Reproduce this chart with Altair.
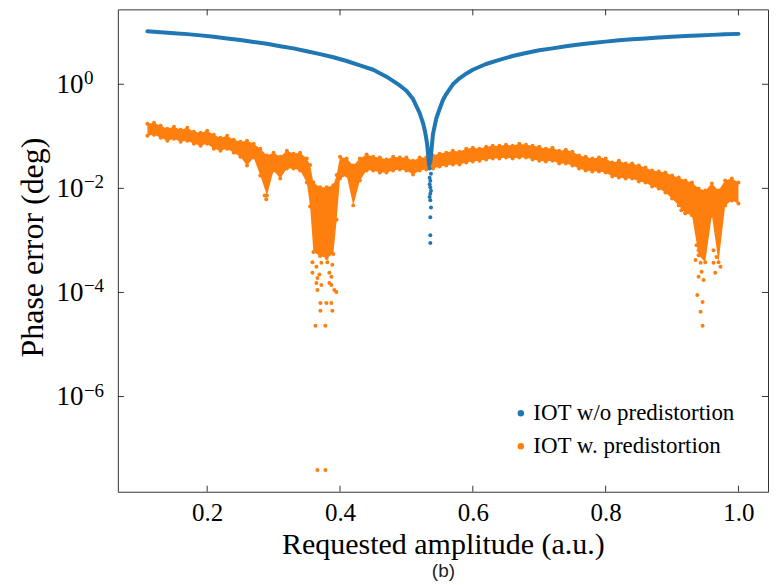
import altair as alt
import pandas as pd

# ---------------- data ----------------
SERIES = ["IOT w/o predistortion", "IOT w. predistortion"]
COLORS = ["#1f77b4", "#ff7f0e"]

X_TICKS = [0.2, 0.4, 0.6, 0.8, 1.0]
Y_TICKS = [1.0, 1e-2, 1e-4, 1e-6]
Y_EXPONENTS = ["0", "\u22122", "\u22124", "\u22126"]

BLUE_X = [0.11, 0.13, 0.15, 0.17, 0.19, 0.21, 0.23, 0.25, 0.27, 0.29,
          0.31, 0.33, 0.35, 0.37, 0.39, 0.41, 0.43, 0.45, 0.47, 0.49,
          0.50, 0.51, 0.515, 0.52, 0.525, 0.528, 0.531, 0.533, 0.534,
          0.536, 0.540, 0.545, 0.549, 0.555, 0.56, 0.57, 0.58, 0.59, 0.60,
          0.62, 0.64, 0.66, 0.68, 0.70, 0.72, 0.74, 0.76, 0.78, 0.80,
          0.82, 0.84, 0.86, 0.88, 0.90, 0.92, 0.94, 0.96, 0.98, 1.00]
BLUE_Y = [10.4, 10.0, 9.6, 9.2, 8.7, 8.2, 7.6, 7.1, 6.5, 6.0,
          5.4, 4.9, 4.3, 3.8, 3.3, 2.8, 2.3, 1.9, 1.4, 0.95,
          0.75, 0.52, 0.38, 0.28, 0.18, 0.125, 0.075, 0.042, 0.028,
          0.032, 0.11, 0.22, 0.31, 0.5, 0.65, 1.0, 1.3, 1.6, 1.9,
          2.45, 2.95, 3.5, 4.0, 4.5, 4.9, 5.4, 5.8, 6.2, 6.6,
          7.0, 7.3, 7.6, 7.9, 8.2, 8.5, 8.7, 8.9, 9.1, 9.3]

BLUE_TAIL_X = [0.535, 0.537, 0.535, 0.536, 0.535, 0.536, 0.537, 0.536, 0.535,
               0.536, 0.537, 0.536, 0.536, 0.536]
BLUE_TAIL_Y = [0.024, 0.019, 0.016, 0.014, 0.012, 0.0105, 0.009, 0.0079, 0.0068,
               0.0059, 0.0043, 0.0028, 0.00126, 0.00089]

ORANGE_X = [0.11, 0.12, 0.13, 0.14, 0.15, 0.16, 0.17, 0.18, 0.19, 0.20,
            0.21, 0.22, 0.23, 0.24, 0.25, 0.26, 0.27, 0.28, 0.29, 0.30,
            0.31, 0.32, 0.33, 0.34, 0.35, 0.355, 0.36, 0.37, 0.38, 0.39, 0.395, 0.40,
            0.41, 0.42, 0.43, 0.44, 0.45, 0.46, 0.47, 0.48, 0.49, 0.50,
            0.51, 0.52, 0.53, 0.54, 0.55, 0.56, 0.57, 0.58, 0.59, 0.60,
            0.61, 0.62, 0.63, 0.64, 0.65, 0.66, 0.67, 0.68, 0.69, 0.70,
            0.71, 0.72, 0.73, 0.74, 0.75, 0.76, 0.77, 0.78, 0.79, 0.80,
            0.81, 0.82, 0.83, 0.84, 0.85, 0.86, 0.87, 0.88, 0.89, 0.90,
            0.91, 0.92, 0.93, 0.94, 0.95, 0.96, 0.97, 0.98, 0.99, 1.00]
ORANGE_HI = [0.174, 0.182, 0.160, 0.140, 0.153, 0.134, 0.146, 0.122, 0.117, 0.128,
             0.107, 0.094, 0.103, 0.086, 0.079, 0.082, 0.072, 0.058, 0.0426, 0.0486,
             0.0407, 0.053, 0.0465, 0.0486, 0.0373, 0.028, 0.013, 0.0105, 0.0105, 0.0115, 0.018, 0.0407,
             0.0373, 0.0274, 0.0373, 0.0445, 0.0407, 0.039, 0.0357, 0.0407, 0.039, 0.039,
             0.0341, 0.039, 0.039, 0.0426, 0.0465, 0.0486, 0.053, 0.0508, 0.058, 0.0605,
             0.058, 0.063, 0.066, 0.066, 0.069, 0.066, 0.072, 0.069, 0.066, 0.063,
             0.058, 0.0605, 0.053, 0.0555, 0.0508, 0.0426, 0.0407, 0.0373, 0.039, 0.0373,
             0.0313, 0.0341, 0.0299, 0.0299, 0.0274, 0.0251, 0.022, 0.021, 0.0201, 0.0177,
             0.0162, 0.0142, 0.013, 0.00995, 0.0091, 0.0124, 0.0091, 0.0142, 0.0155, 0.013]
ORANGE_LO = [0.103, 0.107, 0.094, 0.082, 0.090, 0.079, 0.082, 0.072, 0.066, 0.072,
             0.058, 0.053, 0.058, 0.0486, 0.0407, 0.0274, 0.039, 0.0177, 0.0073, 0.022,
             0.0155, 0.024, 0.024, 0.022, 0.013, 0.0045, 0.0006, 0.0005, 0.00046, 0.00055, 0.0025, 0.0155,
             0.0177, 0.00471, 0.0142, 0.022, 0.022, 0.0201, 0.0201, 0.022, 0.023, 0.022,
             0.0184, 0.022, 0.023, 0.024, 0.0262, 0.0274, 0.0286, 0.0286, 0.0313, 0.0327,
             0.0341, 0.0357, 0.0373, 0.0373, 0.039, 0.0373, 0.039, 0.039, 0.0357, 0.0341,
             0.0327, 0.0341, 0.0299, 0.0299, 0.0274, 0.024, 0.022, 0.021, 0.021, 0.0201,
             0.0169, 0.0162, 0.0155, 0.0155, 0.0135, 0.013, 0.0109, 0.00995, 0.00835, 0.0064,
             0.00471, 0.00331, 0.00303, 0.00052, 0.00038, 0.00303, 0.00038, 0.00471, 0.00587, 0.00514]

ORANGE_DOT_X = [0.3585, 0.3645, 0.372, 0.381, 0.3885, 0.3585, 0.369, 0.384, 0.366, 0.387,
                0.3645, 0.372, 0.384, 0.366, 0.3945, 0.387, 0.3915, 0.3705, 0.3795, 0.387,
                0.3705, 0.3885, 0.363, 0.378, 0.366, 0.378, 0.2865, 0.289,
                0.937, 0.940, 0.9354, 0.943, 0.9445, 0.940, 0.9475, 0.938, 0.946, 0.943, 0.946,
                0.9625, 0.967, 0.9625, 0.973, 0.965, 0.914, 0.920, 0.929]
ORANGE_DOT_Y = [0.00038, 0.00031, 0.00037, 0.00038, 0.00034, 0.00024, 0.00022, 0.00024, 0.00019, 0.00020,
                0.000152, 0.000139, 0.000152, 0.000112, 0.000102, 0.000139, 0.000112, 0.000063, 0.000063, 0.000063,
                0.0000443, 0.0000443, 0.0000229, 0.0000229, 3.86e-8, 3.86e-8, 0.0073, 0.0062,
                0.00081, 0.00065, 0.00042, 0.00037, 0.00025, 0.00020, 0.000173, 0.0000896, 0.0000658, 0.0000424, 0.0000229,
                0.00065, 0.00048, 0.00037, 0.00031, 0.00024, 0.00378, 0.00331, 0.00431]

CAPTION = ["(b)"]

# ---------------- frames ----------------
blue_df = pd.DataFrame({"x": BLUE_X, "y": BLUE_Y})
band_df = pd.DataFrame({"x": ORANGE_X, "lo": ORANGE_LO, "hi": ORANGE_HI})
edge_df = pd.DataFrame({"x": ORANGE_X + ORANGE_X, "y": ORANGE_HI + ORANGE_LO})
dots_df = pd.DataFrame({
    "x": BLUE_TAIL_X + ORANGE_DOT_X,
    "y": BLUE_TAIL_Y + ORANGE_DOT_Y,
    "series": [SERIES[0]] * len(BLUE_TAIL_X) + [SERIES[1]] * len(ORANGE_DOT_X),
})
xt_df = pd.DataFrame({"t": X_TICKS})
yt_df = pd.DataFrame({"t": Y_TICKS, "e": Y_EXPONENTS})
cap_df = pd.DataFrame({"c": CAPTION})

W, H = 651, 483
SERIF = "Liberation Serif"
FRAME = "#333333"

xscale = alt.Scale(domain=[0.0655, 1.0445], nice=False, zero=False)
yscale = alt.Scale(type="log", domain=[1.48e-8, 27.5], nice=False)

xaxis = alt.Axis(values=X_TICKS, format=".1f", grid=False, ticks=False, tickSize=0,
                 domain=False, labelFont=SERIF, labelFontSize=25, labelColor="black",
                 labelPadding=29, labelBaseline="alphabetic",
                 title="Requested amplitude (a.u.)", titleFont=SERIF, titleFontSize=30,
                 titleFontWeight="normal", titleColor="black", titleY=62,
                 titleBaseline="alphabetic")
yaxis = alt.Axis(values=Y_TICKS, labelExpr="'10'", grid=False, ticks=False, tickSize=0,
                 domain=False, labelFont=SERIF, labelFontSize=27, labelColor="black",
                 labelPadding=35, labelBaseline="middle",
                 title="Phase error (deg)", titleFont=SERIF, titleFontSize=32,
                 titleFontWeight="normal", titleColor="black", titleX=-68, titleY=238)


def X(f):
    return alt.X(f"{f}:Q", scale=xscale, axis=xaxis)


def Y(f):
    return alt.Y(f"{f}:Q", scale=yscale, axis=yaxis)


band = alt.Chart(band_df).mark_area(color=COLORS[1], opacity=1).encode(
    x=X("x"), y=Y("lo"), y2="hi:Q")
edges = alt.Chart(edge_df).mark_circle(color=COLORS[1], size=16, opacity=1).encode(
    x=X("x"), y=Y("y"))
blue = alt.Chart(blue_df).mark_line(color=COLORS[0], strokeWidth=4, strokeCap="round",
                                    strokeJoin="round").encode(x=X("x"), y=Y("y"))
dots = alt.Chart(dots_df).mark_circle(size=16, opacity=1).encode(
    x=X("x"), y=Y("y"),
    color=alt.Color("series:N", scale=alt.Scale(domain=SERIES, range=COLORS),
                    legend=alt.Legend(title=None, orient="none", legendX=392, legendY=393,
                                      labelFont=SERIF, labelFontSize=23, labelColor="black",
                                      symbolType="circle", symbolSize=42, symbolStrokeWidth=0,
                                      symbolOpacity=1, rowPadding=9, labelOffset=1,
                                      padding=0, labelLimit=400)))

tick_b = alt.Chart(xt_df).mark_rule(color=FRAME, strokeWidth=1).encode(
    x=X("t"), y=alt.value(H - 6), y2=alt.value(H))
tick_t = alt.Chart(xt_df).mark_rule(color=FRAME, strokeWidth=1).encode(
    x=X("t"), y=alt.value(0), y2=alt.value(6))
tick_l = alt.Chart(yt_df).mark_rule(color=FRAME, strokeWidth=1).encode(
    y=Y("t"), x=alt.value(0), x2=alt.value(6))
tick_r = alt.Chart(yt_df).mark_rule(color=FRAME, strokeWidth=1).encode(
    y=Y("t"), x=alt.value(W - 6), x2=alt.value(W))

expo = alt.Chart(yt_df).mark_text(align="left", baseline="alphabetic", font=SERIF,
                                  fontSize=19, color="black", dy=0).encode(
    y=Y("t"), x=alt.value(-34), text="e:N")

cap = alt.Chart(cap_df).mark_text(font="Liberation Sans", fontSize=19, color="#222222",
                                  baseline="middle", align="center").encode(
    x=alt.value(326), y=alt.value(562), text="c:N")

chart = alt.layer(band, edges, blue, dots, tick_b, tick_t, tick_l, tick_r, expo, cap).properties(
    width=W, height=H,
    autosize=alt.AutoSizeParams(type="none"),
    padding={"left": 110, "top": 1, "right": 1, "bottom": 89},
).configure_view(stroke=FRAME, strokeWidth=1).configure_legend(labelFont=SERIF)

chart.save("out.html", embed_options={"renderer": "svg", "actions": False})
